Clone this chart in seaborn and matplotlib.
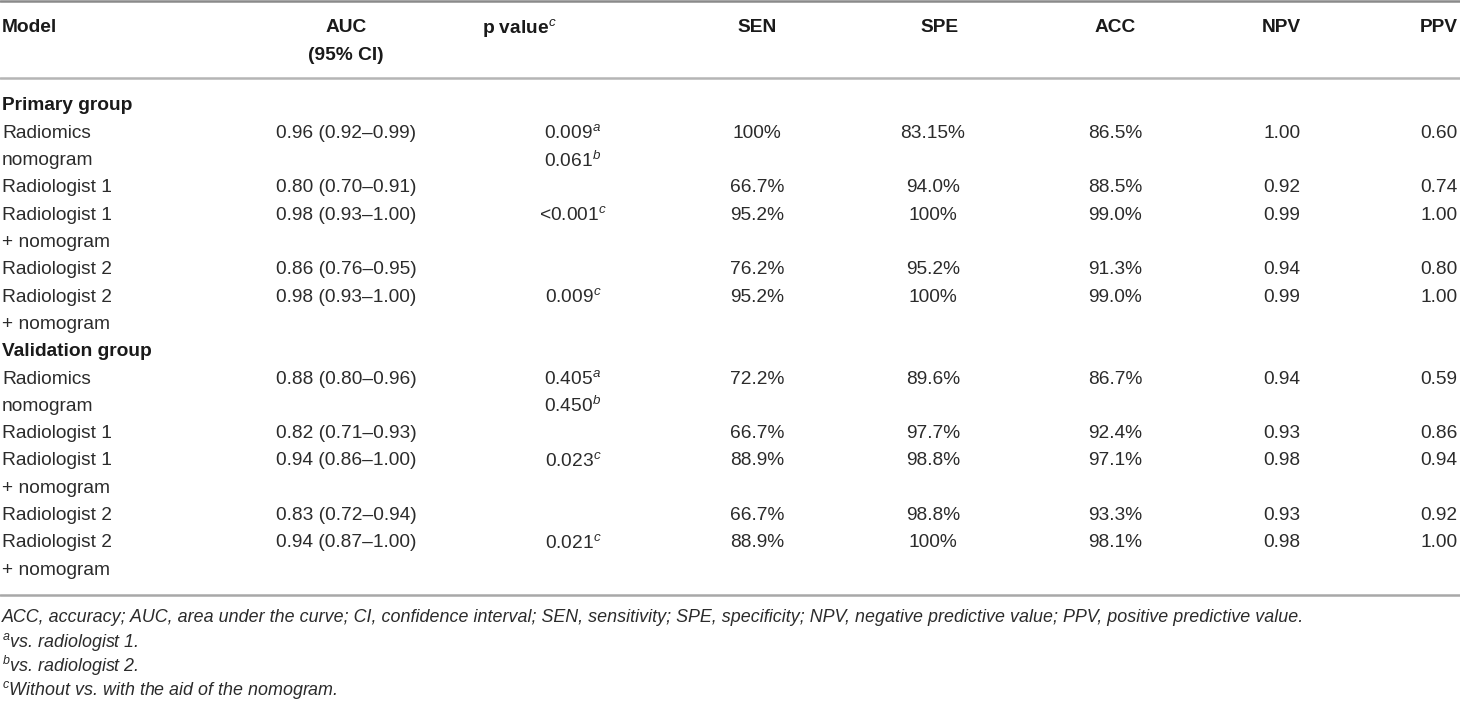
import matplotlib
matplotlib.use("Agg")
import matplotlib.pyplot as plt
import seaborn as sns

# Table contents
columns = ["Model", "AUC\n(95% CI)", "p value$^{c}$", "SEN", "SPE", "ACC", "NPV", "PPV"]
groups = ["Primary group", "Validation group"]
models = [["Radiomics", "nomogram"],
          ["Radiologist 1"],
          ["Radiologist 1", "+ nomogram"],
          ["Radiologist 2"],
          ["Radiologist 2", "+ nomogram"]]

primary_auc = ["0.96 (0.92–0.99)", "0.80 (0.70–0.91)", "0.98 (0.93–1.00)",
               "0.86 (0.76–0.95)", "0.98 (0.93–1.00)"]
primary_p = [["0.009$^{a}$", "0.061$^{b}$"], [], ["<0.001$^{c}$"], [], ["0.009$^{c}$"]]
primary_sen = ["100%", "66.7%", "95.2%", "76.2%", "95.2%"]
primary_spe = ["83.15%", "94.0%", "100%", "95.2%", "100%"]
primary_acc = ["86.5%", "88.5%", "99.0%", "91.3%", "99.0%"]
primary_npv = ["1.00", "0.92", "0.99", "0.94", "0.99"]
primary_ppv = ["0.60", "0.74", "1.00", "0.80", "1.00"]

valid_auc = ["0.88 (0.80–0.96)", "0.82 (0.71–0.93)", "0.94 (0.86–1.00)",
             "0.83 (0.72–0.94)", "0.94 (0.87–1.00)"]
valid_p = [["0.405$^{a}$", "0.450$^{b}$"], [], ["0.023$^{c}$"], [], ["0.021$^{c}$"]]
valid_sen = ["72.2%", "66.7%", "88.9%", "66.7%", "88.9%"]
valid_spe = ["89.6%", "97.7%", "98.8%", "98.8%", "100%"]
valid_acc = ["86.7%", "92.4%", "97.1%", "93.3%", "98.1%"]
valid_npv = ["0.94", "0.93", "0.98", "0.93", "0.98"]
valid_ppv = ["0.59", "0.86", "0.94", "0.92", "1.00"]

footnotes = ["ACC, accuracy; AUC, area under the curve; CI, confidence interval; SEN, sensitivity; "
             "SPE, specificity; NPV, negative predictive value; PPV, positive predictive value.",
             "$^{a}$vs. radiologist 1.",
             "$^{b}$vs. radiologist 2.",
             "$^{c}$Without vs. with the aid of the nomogram."]

sns.set_theme(style="white")
plt.rcParams["font.family"] = ["Liberation Sans", "DejaVu Sans"]
plt.rcParams["mathtext.fontset"] = "custom"
plt.rcParams["mathtext.rm"] = "Liberation Sans"
plt.rcParams["mathtext.it"] = "Liberation Sans:italic"
plt.rcParams["mathtext.bf"] = "Liberation Sans:bold"

fig = plt.figure(figsize=(14.6, 7.03), dpi=100)
ax = fig.add_axes([0, 0, 1, 1])
ax.set_xlim(0, 1460)
ax.set_ylim(703, 0)
ax.axis("off")

body_size = 13.8
text_col = "#2b2b2b"
head_col = "#1a1a1a"

# column anchor x positions (values centred)
value_x = [346, 573, 757, 933, 1115, 1282, 1439]
header_x = [346, 519, 757, 940, 1115, 1281, 1439]

# header rows
ax.text(2, 28, columns[0], ha="left", va="center", fontsize=body_size,
        fontweight="bold", color=head_col)
for x, name in zip(header_x, columns[1:]):
    for k, line in enumerate(name.split("\n")):
        ax.text(x, 28 + 28 * k, line, ha="center", va="center",
                fontsize=body_size, fontweight="bold", color=head_col)

ax.axhline(1, color="#8a8a8a", lw=1.8)
ax.axhline(78, color="#b5b5b5", lw=1.8)
ax.axhline(595, color="#a8a8a8", lw=1.8)

row_h = 27.3
row = 0
group_data = [
    (primary_auc, primary_p, primary_sen, primary_spe, primary_acc, primary_npv, primary_ppv),
    (valid_auc, valid_p, valid_sen, valid_spe, valid_acc, valid_npv, valid_ppv),
]
for gname, data in zip(groups, group_data):
    y = 106 + row * row_h
    ax.text(2, y, gname, ha="left", va="center", fontsize=body_size,
            fontweight="bold", color=head_col)
    row += 1
    auc, pv, sen, spe, acc, npv, ppv = data
    for i, mlines in enumerate(models):
        y0 = 106 + row * row_h
        for k, line in enumerate(mlines):
            ax.text(2, y0 + k * row_h, line, ha="left", va="center",
                    fontsize=body_size, color=text_col)
        for k, p in enumerate(pv[i]):
            ax.text(value_x[1], y0 + k * row_h, p, ha="center", va="center",
                    fontsize=body_size, color=text_col)
        for x, col in zip([value_x[0]] + value_x[2:], [auc, sen, spe, acc, npv, ppv]):
            ax.text(x, y0, col[i], ha="center", va="center",
                    fontsize=body_size, color=text_col)
        row += len(mlines)

# footnotes under the table
foot_y = [617, 642, 666, 690]
for y, note in zip(foot_y, footnotes):
    ax.text(2, y, note, ha="left", va="center", fontsize=12.9,
            style="italic", color=text_col)

fig.savefig("out.png", dpi=100)
